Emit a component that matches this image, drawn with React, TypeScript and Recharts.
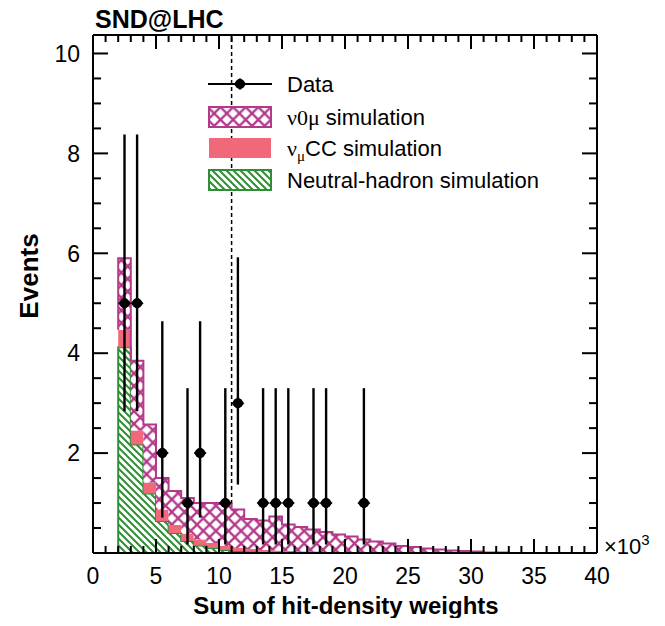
import React from 'react'
import {
  ComposedChart,
  Area,
  Line,
  Scatter,
  ErrorBar,
  XAxis,
  YAxis,
  ReferenceLine,
} from 'recharts'

// histogram bins, lower edges in units of 10^3
const binStarts = [
  2, 3, 4, 5, 6, 7, 8, 9, 10, 11, 12, 13, 14, 15, 16, 17, 18, 19, 20, 21,
  22, 23, 24, 25, 26, 27, 28, 29, 30, 31, 32, 33, 34, 35, 36, 37, 38, 39,
]
const neutralHadron = [
  4.12, 2.17, 1.19, 0.64, 0.4, 0.24, 0.15, 0.1, 0.06, 0.04, 0.03, 0.02, 0.02, 0.01,
  0.01, 0.01, 0, 0, 0, 0, 0, 0, 0, 0, 0, 0, 0, 0, 0, 0, 0, 0, 0, 0, 0, 0, 0, 0,
]
const numuCC = [
  0.35, 0.28, 0.22, 0.23, 0.16, 0.14, 0.12, 0.1, 0.08, 0.06, 0.05, 0.04, 0.03, 0.03,
  0.02, 0.02, 0.02, 0.01, 0.01, 0.01, 0.01, 0.01, 0, 0, 0, 0, 0, 0, 0, 0, 0, 0, 0,
  0, 0, 0, 0, 0,
]
const nu0mu = [
  1.43, 1.4, 1.16, 0.63, 0.68, 0.72, 0.73, 0.8, 0.84, 0.77, 0.6, 0.59, 0.68, 0.53,
  0.49, 0.44, 0.4, 0.36, 0.32, 0.26, 0.22, 0.18, 0.14, 0.12, 0.09, 0.07, 0.05, 0.04,
  0.03, 0.01, 0.01, 0, 0, 0, 0, 0, 0, 0,
]

// observed events (bin centres) with asymmetric errors
const dataX = [2.5, 3.5, 5.5, 7.5, 8.5, 10.5, 11.5, 13.5, 14.5, 15.5, 17.5, 18.5, 21.5]
const dataY = [5, 5, 2, 1, 2, 1, 3, 1, 1, 1, 1, 1, 1]
const errLow = [2.16, 2.16, 1.29, 0.83, 1.29, 0.83, 1.63, 0.83, 0.83, 0.83, 0.83, 0.83, 0.83]
const errHigh = [3.38, 3.38, 2.64, 2.3, 2.64, 2.3, 2.92, 2.3, 2.3, 2.3, 2.3, 2.3, 2.3]

const cutValue = 11

const xTicks = Array.from({ length: 41 }, (_, i) => i)
const yTicks = Array.from({ length: 21 }, (_, i) => i / 2)

const MAGENTA = '#b3398a'
const PINK = '#f1687b'
const GREEN = '#2f8f35'
const FONT = "'Liberation Sans', Arial, Helvetica, sans-serif"
const GREEK = "'Liberation Serif', 'Times New Roman', serif"

const last = binStarts.length - 1
const histData = [
  { x: binStarts[0], nh: 0, cc: 0, nu: 0, outline: neutralHadron[0] + numuCC[0] },
  ...binStarts.map((b, i) => ({
    x: b,
    nh: neutralHadron[i],
    cc: numuCC[i],
    nu: nu0mu[i],
    outline: neutralHadron[i] + numuCC[i] + nu0mu[i],
  })),
  {
    x: 40,
    nh: neutralHadron[last],
    cc: numuCC[last],
    nu: nu0mu[last],
    outline: neutralHadron[last] + numuCC[last] + nu0mu[last],
  },
]

const points = dataX.map((x, i) => ({ x, y: dataY[i], err: [errLow[i], errHigh[i]] }))

const cutBin = binStarts.indexOf(cutValue - 1)
const cutTop = neutralHadron[cutBin] + numuCC[cutBin] + nu0mu[cutBin]

const Y_MAX = 10.37

const BottomTick = (props: any) => {
  const { x, y, payload } = props
  const v = payload.value
  const major = v % 5 === 0
  return (
    <g>
      <line x1={x} x2={x} y1={y} y2={y - (major ? 14 : 7)} stroke="#000" strokeWidth={2} />
      {major && (
        <text x={x} y={y + 31} textAnchor="middle" fontSize={23} fontFamily={FONT} fill="#000">
          {v}
        </text>
      )}
    </g>
  )
}

const TopTick = (props: any) => {
  const { x, y, payload } = props
  const major = payload.value % 5 === 0
  return <line x1={x} x2={x} y1={y} y2={y + (major ? 14 : 7)} stroke="#000" strokeWidth={2} />
}

const LeftTick = (props: any) => {
  const { x, y, payload } = props
  const v = payload.value
  const major = v % 2 === 0
  return (
    <g>
      <line x1={x} x2={x + (major ? 15 : 8)} y1={y} y2={y} stroke="#000" strokeWidth={2} />
      {major && v > 0 && (
        <text x={x - 13} y={y} dy="0.36em" textAnchor="end" fontSize={23} fontFamily={FONT} fill="#000">
          {v}
        </text>
      )}
    </g>
  )
}

const RightTick = (props: any) => {
  const { x, y, payload } = props
  const major = payload.value % 2 === 0
  return <line x1={x} x2={x - (major ? 15 : 8)} y1={y} y2={y} stroke="#000" strokeWidth={2} />
}

const Marker = (props: any) => {
  const { cx, cy } = props
  return (
    <g>
      <polygon
        points={`${cx - 6.5},${cy} ${cx},${cy - 6} ${cx + 6.5},${cy} ${cx},${cy + 6}`}
        fill="#000"
      />
      <circle cx={cx} cy={cy} r={5} fill="#000" />
    </g>
  )
}

const Patterns = ({ p }: { p: string }) => (
  <defs>
    <pattern id={`${p}cross`} patternUnits="userSpaceOnUse" width={12.6} height={12.6}>
      <rect width={12.6} height={12.6} fill="#fff" />
      <path d="M0,0 L12.6,12.6 M12.6,0 L0,12.6" stroke={MAGENTA} strokeWidth={2.3} />
    </pattern>
    <pattern id={`${p}hatch`} patternUnits="userSpaceOnUse" width={7} height={7}>
      <rect width={7} height={7} fill="#fff" />
      <path d="M0,0 L7,7 M-1,6 L1,8 M6,-1 L8,1" stroke={GREEN} strokeWidth={2} />
    </pattern>
  </defs>
)

export default function App() {
  return (
    <div style={{ position: 'relative', width: 649, height: 610 }}>
      <ComposedChart
        width={649}
        height={610}
        data={histData}
        margin={{ top: 17, right: 50, bottom: 35, left: 45 }}
      >
        <Patterns p="plot-" />
        <XAxis
          xAxisId={0}
          dataKey="x"
          type="number"
          domain={[0, 40]}
          ticks={xTicks}
          interval={0}
          allowDataOverflow
          height={30}
          tickSize={0}
          tickMargin={0}
          tickLine={false}
          tick={<BottomTick />}
          axisLine={{ stroke: '#000', strokeWidth: 2 }}
        />
        <XAxis
          xAxisId="top"
          orientation="top"
          type="number"
          dataKey="x"
          domain={[0, 40]}
          ticks={xTicks}
          interval={0}
          allowDataOverflow
          height={10}
          tickSize={0}
          tickMargin={0}
          tickLine={false}
          tick={<TopTick />}
          axisLine={{ stroke: '#000', strokeWidth: 2 }}
        />
        <YAxis
          yAxisId={0}
          type="number"
          domain={[0, Y_MAX]}
          ticks={yTicks}
          interval={0}
          allowDataOverflow
          width={40}
          tickSize={0}
          tickMargin={0}
          tickLine={false}
          tick={<LeftTick />}
          axisLine={{ stroke: '#000', strokeWidth: 2 }}
        />
        <YAxis
          yAxisId="right"
          orientation="right"
          type="number"
          domain={[0, Y_MAX]}
          ticks={yTicks}
          interval={0}
          allowDataOverflow
          width={10}
          tickSize={0}
          tickMargin={0}
          tickLine={false}
          tick={<RightTick />}
          axisLine={{ stroke: '#000', strokeWidth: 2 }}
        />
        <ReferenceLine
          segment={[
            { x: cutValue, y: cutTop },
            { x: cutValue, y: Y_MAX },
          ]}
          stroke="#000"
          strokeWidth={1.5}
          strokeDasharray="4 3"
        />
        <Area
          dataKey="nh"
          stackId="h"
          type="stepAfter"
          fill="url(#plot-hatch)"
          fillOpacity={1}
          stroke={GREEN}
          strokeWidth={2}
          isAnimationActive={false}
        />
        <Area
          dataKey="cc"
          stackId="h"
          type="stepAfter"
          fill={PINK}
          fillOpacity={1}
          stroke="none"
          isAnimationActive={false}
        />
        <Area
          dataKey="nu"
          stackId="h"
          type="stepAfter"
          fill="url(#plot-cross)"
          fillOpacity={1}
          stroke="none"
          isAnimationActive={false}
        />
        <Line
          dataKey="outline"
          type="stepAfter"
          stroke={MAGENTA}
          strokeWidth={2}
          dot={false}
          isAnimationActive={false}
        />
        <Scatter data={points} dataKey="y" shape={<Marker />} isAnimationActive={false}>
          <ErrorBar dataKey="err" direction="y" width={0} stroke="#000" strokeWidth={2.4} />
        </Scatter>
      </ComposedChart>

      {/* titles and legend, in page coordinates */}
      <svg
        width={665}
        height={626}
        style={{ position: 'absolute', left: -8, top: -8, pointerEvents: 'none' }}
        fontFamily={FONT}
      >
        <Patterns p="leg-" />
        <text x={95} y={28} fontSize={25} fontWeight="bold">
          SND@LHC
        </text>
        <text
          x={29}
          y={276}
          fontSize={26}
          fontWeight="bold"
          textAnchor="middle"
          dominantBaseline="central"
          transform="rotate(-90 29 276)"
        >
          Events
        </text>
        <text x={346} y={614} fontSize={24} fontWeight="bold" textAnchor="middle">
          Sum of hit-density weights
        </text>
        <text x={604} y={554} fontSize={22}>
          ×10
          <tspan dy={-9} fontSize={15}>
            3
          </tspan>
        </text>

        {/* legend */}
        <line x1={208} x2={272} y1={84} y2={84} stroke="#000" strokeWidth={2} />
        <Marker cx={240} cy={84} />
        <text x={287} y={92} fontSize={22}>
          Data
        </text>
        <rect x={209} y={107} width={62} height={20} fill="url(#leg-cross)" stroke={MAGENTA} strokeWidth={2} />
        <text x={287} y={125} fontSize={22}>
          <tspan fontFamily={GREEK}>ν0μ</tspan> simulation
        </text>
        <rect x={209} y={138} width={62} height={20} fill={PINK} />
        <text x={287} y={156} fontSize={22}>
          <tspan fontFamily={GREEK}>ν</tspan>
          <tspan fontFamily={GREEK} fontSize={15} dy={5}>
            μ
          </tspan>
          <tspan dy={-5}>CC simulation</tspan>
        </text>
        <rect x={209} y={170} width={62} height={20} fill="url(#leg-hatch)" stroke={GREEN} strokeWidth={2} />
        <text x={287} y={188} fontSize={22}>
          Neutral-hadron simulation
        </text>
      </svg>
    </div>
  )
}
